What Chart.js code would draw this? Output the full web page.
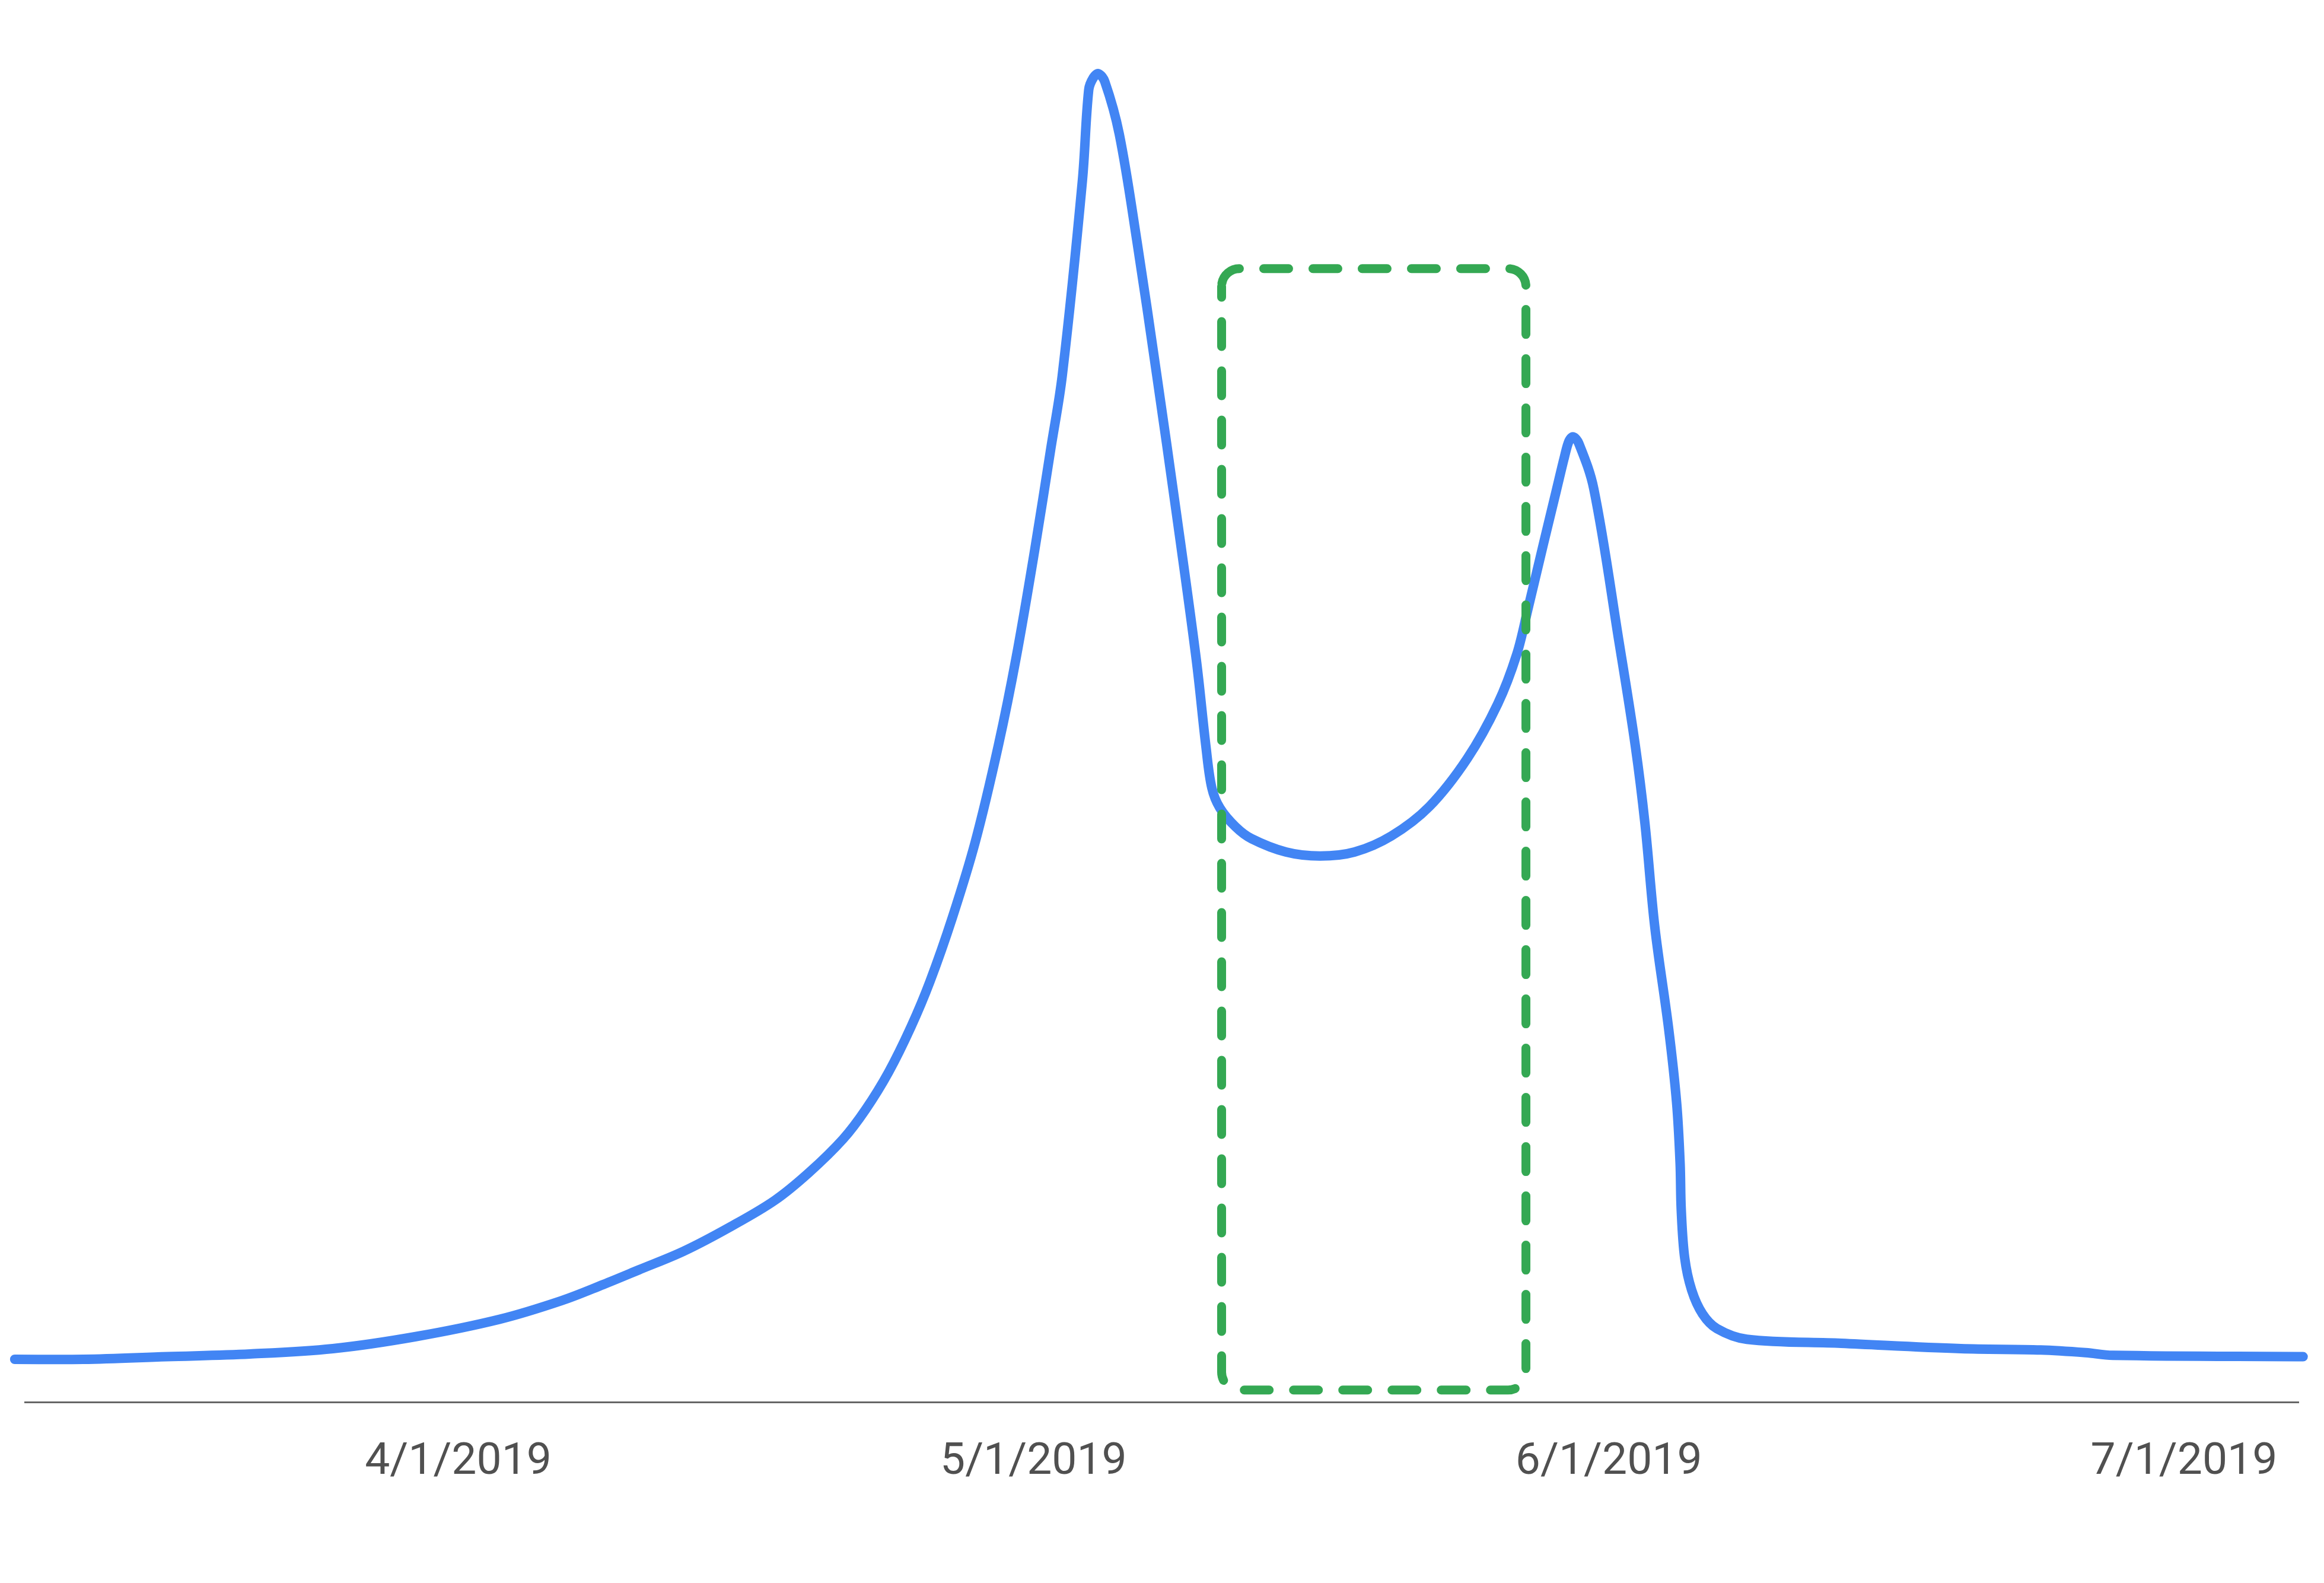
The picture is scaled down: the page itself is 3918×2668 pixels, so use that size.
<!DOCTYPE html>
<html>
<head>
<meta charset="utf-8">
<script src="https://cdn.jsdelivr.net/npm/chart.js@4.4.1/dist/chart.umd.min.js"></script>
<style>
  html, body { margin: 0; padding: 0; background: #fff; }
  #wrap { width: 3918px; height: 2668px; position: relative; }
</style>
</head>
<body>
<div id="wrap"><canvas id="chart"></canvas></div>
<script>
// x axis: months after 4/1/2019 (ticks are evenly spaced in the original)
const tickValues = [0, 1, 2, 3];
const tickLabels = ['4/1/2019', '5/1/2019', '6/1/2019', '7/1/2019'];

// curve (x in months from 4/1, y relative level 0-100)
const seriesX = [
  -0.771, -0.652, -0.507, -0.362, -0.218, -0.074, 0.072, 0.180, 0.252, 0.314,
  0.392, 0.472, 0.550, 0.610, 0.669, 0.708, 0.748, 0.787, 0.820, 0.859,
  0.899, 0.939, 0.970, 1.002, 1.030, 1.050, 1.085, 1.096, 1.104, 1.113,
  1.124, 1.149, 1.180, 1.214, 1.248, 1.283, 1.300, 1.310, 1.324, 1.351,
  1.379, 1.439, 1.498, 1.558, 1.622, 1.688, 1.754, 1.807, 1.840, 1.860,
  1.886, 1.909, 1.923, 1.931, 1.938, 1.948, 1.974, 2.018, 2.046, 2.063,
  2.080, 2.104, 2.118, 2.124, 2.126, 2.132, 2.144, 2.163, 2.188, 2.240,
  2.404, 2.612, 2.751, 2.829, 2.876, 3.207
];
const seriesY = [
  3.2, 3.2, 3.4, 3.6, 4.0, 4.9, 6.2, 7.6, 8.8, 9.9,
  11.3, 13.1, 15.1, 17.2, 19.7, 21.9, 24.7, 28.1, 31.5, 36.3,
  42.0, 49.2, 55.8, 63.8, 71.4, 76.9, 91.5, 98.3, 99.2, 99.5,
  98.9, 95.0, 86.9, 77.0, 66.7, 55.6, 49.0, 46.0, 44.5, 43.1,
  42.2, 41.2, 40.9, 41.2, 42.4, 44.6, 48.2, 52.3, 56.0, 59.5,
  64.2, 68.3, 70.8, 72.0, 72.3, 71.8, 68.4, 56.9, 49.2, 43.3,
  35.6, 28.0, 22.4, 17.9, 14.4, 10.8, 8.4, 6.6, 5.5, 4.7,
  4.4, 4.0, 3.9, 3.7, 3.5, 3.4
];

// dashed highlight window
const boxX = [1.327, 1.856];
const boxY = [0.9, 84.9];

const highlightBox = {
  id: 'highlightBox',
  afterDatasetsDraw(chart) {
    const { ctx, scales: { x, y } } = chart;
    const left = x.getPixelForValue(boxX[0]);
    const right = x.getPixelForValue(boxX[1]);
    const top = y.getPixelForValue(boxY[1]);
    const bottom = y.getPixelForValue(boxY[0]);
    const r = 30;
    ctx.save();
    ctx.strokeStyle = '#34A853';
    ctx.lineWidth = 15;
    ctx.lineCap = 'round';
    ctx.setLineDash([42, 41]);
    ctx.lineDashOffset = -5;
    // start on the top-left corner so the dash pattern lines up like the original
    ctx.beginPath();
    ctx.moveTo(left, top + r);
    ctx.arcTo(left, top, left + r, top, r);
    ctx.lineTo(right - r, top);
    ctx.arcTo(right, top, right, top + r, r);
    ctx.lineTo(right, bottom - r);
    ctx.arcTo(right, bottom, right - r, bottom, r);
    ctx.lineTo(left + r, bottom);
    ctx.arcTo(left, bottom, left, bottom - r, r);
    ctx.closePath();
    ctx.stroke();
    ctx.restore();
  }
};

const ctx = document.getElementById('chart').getContext('2d');
new Chart(ctx, {
  type: 'line',
  data: {
    datasets: [{
      data: seriesX.map((x, i) => ({ x: x, y: seriesY[i] })),
      borderColor: '#4285F4',
      borderWidth: 16,
      borderCapStyle: 'round',
      borderJoinStyle: 'round',
      pointRadius: 0,
      fill: false,
      tension: 0.35,
      clip: false
    }]
  },
  options: {
    responsive: true,
    maintainAspectRatio: false,
    devicePixelRatio: 1,
    animation: false,
    layout: { padding: { top: 113, left: 42, right: 43, bottom: 0 } },
    plugins: {
      legend: { display: false },
      tooltip: { enabled: false }
    },
    scales: {
      x: {
        type: 'linear',
        min: -0.7533,
        max: 3.199,
        grid: { display: false, drawTicks: false },
        border: { display: true, color: '#666', width: 3 },
        afterBuildTicks: s => { s.ticks = tickValues.map(v => ({ value: v })); },
        afterFit: s => { s.height = 305; },
        ticks: {
          autoSkip: false,
          maxRotation: 0,
          padding: 57,
          color: '#505050',
          font: { family: 'Roboto', size: 75 },
          callback: v => tickLabels[tickValues.indexOf(v)]
        }
      },
      y: { display: false, min: 0, max: 100 }
    }
  },
  plugins: [highlightBox]
});
</script>
</body>
</html>
